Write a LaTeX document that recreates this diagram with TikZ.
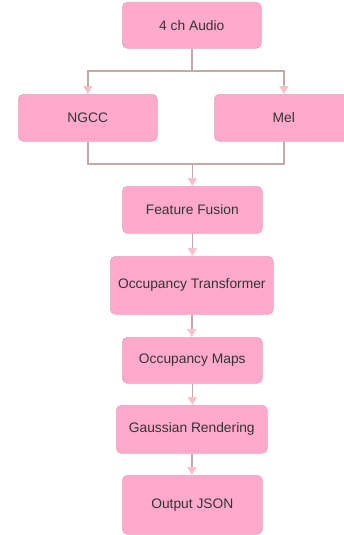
\documentclass[tikz,border=0pt]{standalone}
\usepackage{fontspec}
\setmainfont{Liberation Sans}
\usetikzlibrary{arrows.meta}
\definecolor{boxfill}{HTML}{FFAACC}
\definecolor{boxedge}{HTML}{E8A4BC}
\definecolor{wire}{HTML}{C4A8AA}
\definecolor{tipcol}{HTML}{FFC0CB}
\definecolor{txt}{HTML}{333333}
\tikzset{
  stage/.style={draw=boxedge, fill=boxfill, rounded corners=5pt, line width=0.6pt,
    text=txt, font=\fontsize{13.8}{16}\selectfont, inner sep=0pt, anchor=north west},
  wireline/.style={draw=wire, line width=1.5pt},
  flow/.style={wireline, -{Triangle[length=8pt,width=9pt,color=tipcol]}, shorten >=0pt},
}
\newcommand{\stagebox}[6]{% name, x1, y1, x2, y2, text
  \node[stage, minimum width=#4pt-#2pt, minimum height=#5pt-#3pt] (#1) at (#2,#3) {#6};}
\begin{document}
\begin{tikzpicture}[x=1pt,y=-1pt]
\useasboundingbox (0,0) rectangle (344,535);
\stagebox{audio}{122}{2}{261}{48}{4 ch Audio}
\stagebox{ngcc}{18}{94}{157}{141}{NGCC}
\stagebox{mel}{214}{94}{353}{141}{Mel}
\stagebox{fusion}{122}{186}{262}{233}{Feature Fusion}
\stagebox{occt}{110}{256}{273}{314}{Occupancy Transformer}
\stagebox{maps}{122}{337}{262}{383}{Occupancy Maps}
\stagebox{gauss}{116}{405}{267}{453}{Gaussian Rendering}
\stagebox{out}{122}{475}{262}{534}{Output JSON}
% split from the audio input
\coordinate (splitA) at (audio.south |- 0,71);
\draw[wireline] (audio.south) -- (splitA);
\draw[flow] (splitA) -| (ngcc.north);
\draw[flow] (splitA) -| (mel.north);
% merge into fusion
\coordinate (mergeB) at (fusion.north |- 0,164);
\draw[wireline] (ngcc.south) |- (mergeB);
\draw[wireline] (mel.south) |- (mergeB);
\draw[flow] (mergeB) -- (fusion.north);
% main chain
\draw[flow] (fusion.south) -- (fusion.south |- occt.north);
\draw[flow] (occt.south) -- (occt.south |- maps.north);
\draw[flow] (maps.south) -- (maps.south |- gauss.north);
\draw[flow] (gauss.south) -- (gauss.south |- out.north);
\end{tikzpicture}
\end{document}
